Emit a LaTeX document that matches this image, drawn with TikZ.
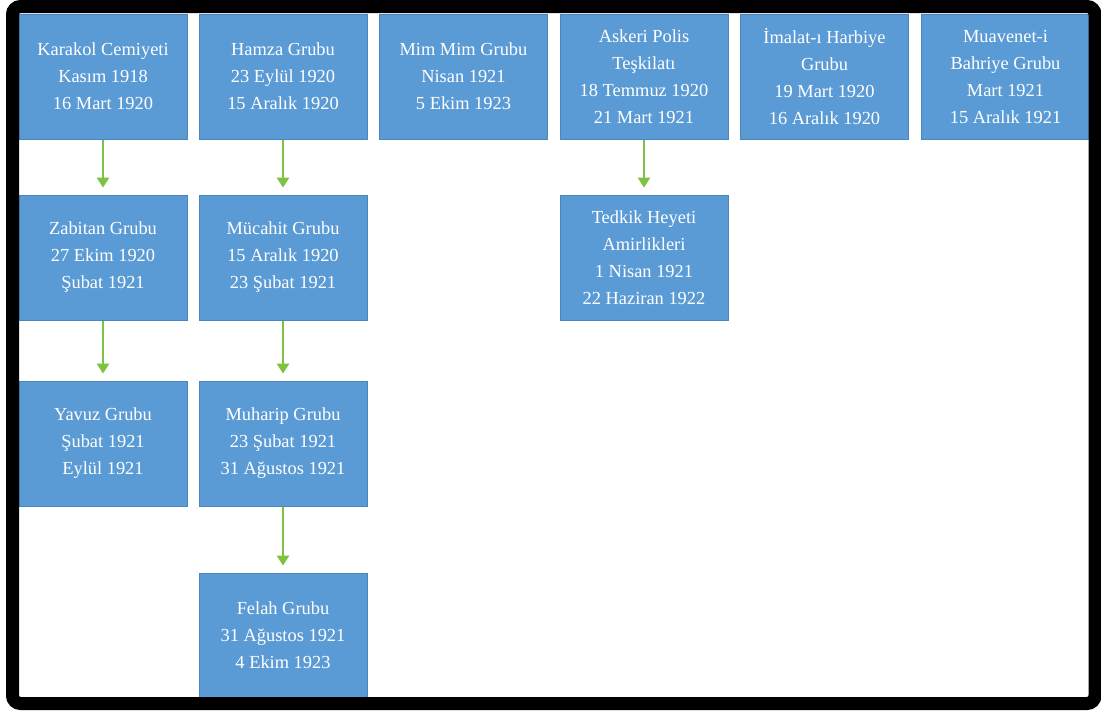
\documentclass[tikz,border=0pt]{standalone}
\usepackage{fontspec}
\setmainfont{Liberation Serif}
\usepackage{tikz}
\usetikzlibrary{arrows.meta}

\definecolor{boxblue}{HTML}{5B9BD5}
\definecolor{boxline}{HTML}{4A86BE}
\definecolor{arrowgreen}{HTML}{7DC242}

\begin{document}
\begin{tikzpicture}[x=1pt,y=-1pt,
	group/.style={rectangle, fill=boxblue, draw=boxline, line width=0.8pt,
		minimum width=168pt, minimum height=125pt, inner sep=2pt,
		text=white, align=center, font=\fontsize{18.4}{27}\selectfont},
	link/.style={draw=arrowgreen, line width=2.6pt,
		-{Triangle[width=12pt,length=10pt]}, shorten <=1pt, shorten >=7pt}]
	\useasboundingbox (0,0) rectangle (1101,710);

	% Draw the first row of groups
	\node[group] (karakol) at (103,76.5) {Karakol Cemiyeti\\Kasım 1918\\16 Mart 1920};
	\node[group] (hamza) at (283,76.5) {Hamza Grubu\\23 Eylül 1920\\15 Aralık 1920};
	\node[group] (mimmim) at (463.5,76.5) {Mim Mim Grubu\\Nisan 1921\\5 Ekim 1923};
	\node[group] (askeri) at (644,76.5) {Askeri Polis\\Teşkilatı\\18 Temmuz 1920\\21 Mart 1921};
	\node[group] (imalat) at (824.5,76.5) {İmalat-ı Harbiye\\Grubu\\19 Mart 1920\\16 Aralık 1920};
	\node[group] (muavenet) at (1005.5,76.5) {Muavenet-i\\Bahriye Grubu\\Mart 1921\\15 Aralık 1921};

	% Draw the second row
	\node[group] (zabitan) at (103,257.5) {Zabitan Grubu\\27 Ekim 1920\\Şubat 1921};
	\node[group] (mucahit) at (283,257.5) {Mücahit Grubu\\15 Aralık 1920\\23 Şubat 1921};
	\node[group] (tedkik) at (644,257.5) {Tedkik Heyeti\\Amirlikleri\\1 Nisan 1921\\22 Haziran 1922};

	% Draw the third and fourth rows
	\node[group] (yavuz) at (103,443.5) {Yavuz Grubu\\Şubat 1921\\Eylül 1921};
	\node[group] (muharip) at (283,443.5) {Muharip Grubu\\23 Şubat 1921\\31 Ağustos 1921};
	\node[group] (felah) at (283,635.5) {Felah Grubu\\31 Ağustos 1921\\4 Ekim 1923};

	% Draw the green arrows
	\draw[link] (karakol) -- (zabitan);
	\draw[link] (zabitan) -- (yavuz);
	\draw[link] (hamza) -- (mucahit);
	\draw[link] (mucahit) -- (muharip);
	\draw[link] (muharip) -- (felah);
	\draw[link] (askeri) -- (tedkik);

	% Draw the black frame
	\draw[line width=13pt, rounded corners=8pt] (12.5,6.5) rectangle (1095,703.5);
\end{tikzpicture}
\end{document}
